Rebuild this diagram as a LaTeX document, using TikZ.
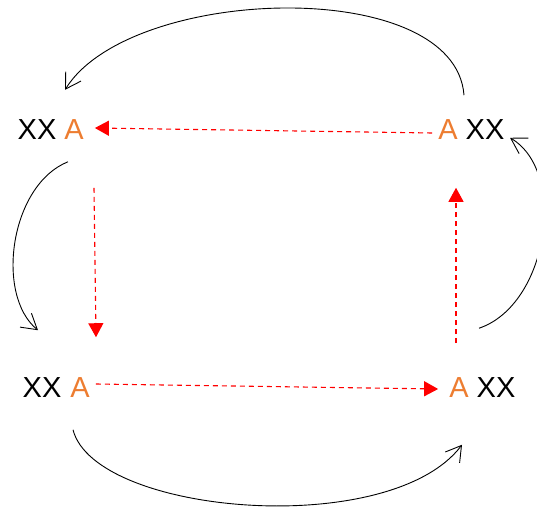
\documentclass[tikz,border=0pt]{standalone}
\usepackage{fontspec}
\setmainfont{Liberation Sans}
\usetikzlibrary{arrows.meta}
\definecolor{aorange}{RGB}{237,125,49}
\tikzset{
  lbl/.style={inner sep=0pt, font=\fontsize{29}{32}\selectfont},
  xx/.style={lbl, text=black},
  aa/.style={lbl, text=aorange},
  redarr/.style={red, line width=1.1pt, dash pattern=on 5pt off 4pt, -{Triangle[length=14pt,width=15pt]}},
  blkarr/.style={black, line width=0.9pt, -{Straight Barb[length=15pt,width=18pt,line width=0.9pt]}}
}
\begin{document}
\begin{tikzpicture}[x=1pt,y=1pt]
\useasboundingbox (0,0) rectangle (537,-510);
% nodes
\node[xx] (tlx) at (37,-130) {XX};
\node[aa] (tla) at (74,-130) {A};
\node[aa] (tra) at (448,-130) {A};
\node[xx] (trx) at (485,-130) {XX};
\node[xx] (blx) at (42,-388) {XX};
\node[aa] (bla) at (80,-388) {A};
\node[aa] (bra) at (459,-388) {A};
\node[xx] (brx) at (496,-388) {XX};
% red dashed arrows
\draw[redarr] ([shift={(-6,-3)}]tra.west) -- ([shift={(11,2)}]tla.east);
\draw[redarr] ([shift={(20,-47.6)}]tla.south) -- ([shift={(16,40.6)}]bla.north);
\draw[redarr] ([shift={(-3,34.6)}]bra.north) -- ([shift={(8,-47.6)}]tra.south);
\draw[redarr] ([shift={(6,4)}]bla.east) -- ([shift={(-11,-1)}]bra.west);
% black curved arrows
\draw[blkarr] ([shift={(16,24.6)}]tra.north) .. controls (455,25) and (130,15) .. ([shift={(-9,30)}]tla.north);
\draw[blkarr] ([shift={(-6,-21.6)}]tla.south) .. controls (10,-185) and (-5,-295) .. ([shift={(-4,47.6)}]blx.north);
\draw[blkarr] ([shift={(-7,-31.6)}]bla.south) .. controls (95,-515) and (390,-540) .. ([shift={(3,-46.6)}]bra.south);
\draw[blkarr] ([shift={(20,49.6)}]bra.north) .. controls (548,-305) and (568,-172) .. ([shift={(25,2.4)}]trx.south);
\end{tikzpicture}
\end{document}
